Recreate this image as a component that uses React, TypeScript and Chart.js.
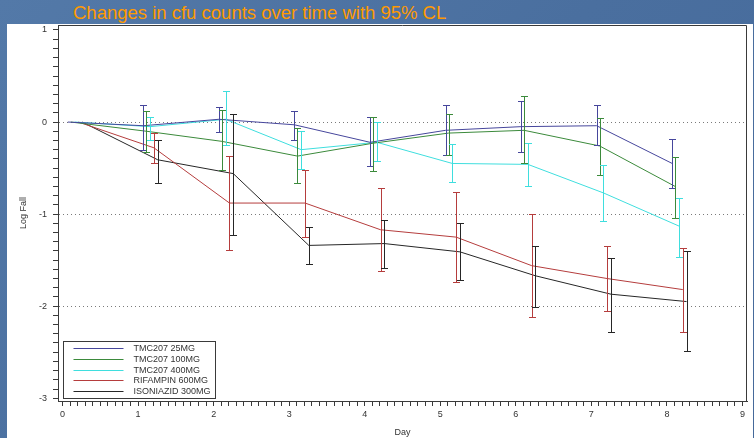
import React, { useEffect, useRef } from 'react';
import { Chart, registerables } from 'chart.js';

Chart.register(...registerables);

const CHART_TITLE = 'Changes in cfu counts over time with 95% CL';
const X_AXIS_TITLE = 'Day';
const Y_AXIS_TITLE = 'Log Fall';

const DAYS = [0, 1, 2, 3, 4, 5, 6, 7, 8];
const X_TICK_LABELS = [0, 1, 2, 3, 4, 5, 6, 7, 8, 9];
const Y_TICK_LABELS = [1, 0, -1, -2, -3];
const Y_GRID_VALUES = [0, -1, -2];

const SERIES_NAMES = ['TMC207 25MG', 'TMC207 100MG', 'TMC207 400MG', 'RIFAMPIN 600MG', 'ISONIAZID 300MG'];
const SERIES_COLORS = ['#46469c', '#3b8a3b', '#3fdede', '#b53d3d', '#262626'];
const SERIES_DAY_OFFSET = [0.07, 0.11, 0.16, 0.21, 0.26];

const TMC25_MEAN = [0, -0.04, 0.03, -0.03, -0.22, -0.09, -0.05, -0.04, -0.45];
const TMC25_LOWER = [null, -0.30, -0.11, -0.20, -0.48, -0.36, -0.33, -0.25, -0.72];
const TMC25_UPPER = [null, 0.18, 0.16, 0.12, 0.06, 0.18, 0.23, 0.18, -0.18];

const TMC100_MEAN = [0, -0.10, -0.21, -0.37, -0.23, -0.12, -0.09, -0.26, -0.70];
const TMC100_LOWER = [null, -0.33, -0.52, -0.66, -0.53, -0.36, -0.45, -0.57, -1.04];
const TMC100_UPPER = [null, 0.12, 0.13, -0.07, 0.06, 0.09, 0.28, 0.04, -0.38];

const TMC400_MEAN = [0, -0.05, 0.03, -0.30, -0.22, -0.45, -0.46, -0.77, -1.13];
const TMC400_LOWER = [null, -0.19, -0.25, -0.51, -0.42, -0.65, -0.69, -1.07, -1.47];
const TMC400_UPPER = [null, 0.06, 0.34, -0.10, 0.0, -0.24, -0.23, -0.47, -0.82];

const RIF600_MEAN = [0, -0.28, -0.88, -0.88, -1.17, -1.25, -1.56, -1.70, -1.82];
const RIF600_LOWER = [null, -0.45, -1.39, -1.25, -1.62, -1.74, -2.12, -2.05, -2.28];
const RIF600_UPPER = [null, -0.12, -0.37, -0.52, -0.72, -0.76, -1.00, -1.35, -1.37];

const INH300_MEAN = [0, -0.41, -0.56, -1.34, -1.32, -1.41, -1.67, -1.87, -1.95];
const INH300_LOWER = [null, -0.66, -1.23, -1.54, -1.59, -1.72, -2.01, -2.28, -2.49];
const INH300_UPPER = [null, -0.20, 0.09, -1.145, -1.06, -1.10, -1.35, -1.48, -1.40];

const SERIES_MEANS = [TMC25_MEAN, TMC100_MEAN, TMC400_MEAN, RIF600_MEAN, INH300_MEAN];
const SERIES_LOWERS = [TMC25_LOWER, TMC100_LOWER, TMC400_LOWER, RIF600_LOWER, INH300_LOWER];
const SERIES_UPPERS = [TMC25_UPPER, TMC100_UPPER, TMC400_UPPER, RIF600_UPPER, INH300_UPPER];

const FONT = "'Liberation Sans', Arial, sans-serif";
const TEXT_COLOR = '#333333';

function minorTicks(min: number, max: number) {
  const out: { value: number }[] = [];
  for (let k = Math.round(min * 10); k <= Math.round(max * 10); k++) out.push({ value: k / 10 });
  return out;
}

function isInt(v: number) {
  return Math.abs(v - Math.round(v)) < 1e-6;
}

const errorBarPlugin = {
  id: 'errorBars',
  afterDatasetsDraw(chart: any) {
    const { ctx } = chart;
    const xs = chart.scales.x;
    const ys = chart.scales.y;
    chart.data.datasets.forEach((ds: any) => {
      ctx.save();
      ctx.strokeStyle = ds.borderColor;
      ctx.lineWidth = 1;
      ds.data.forEach((pt: any, i: number) => {
        const lo = ds.errLower[i];
        const hi = ds.errUpper[i];
        if (lo == null || hi == null) return;
        const x = Math.round(xs.getPixelForValue(pt.x)) + 0.5;
        const y1 = Math.round(ys.getPixelForValue(lo)) + 0.5;
        const y2 = Math.round(ys.getPixelForValue(hi)) + 0.5;
        const cap = 3.5;
        ctx.beginPath();
        ctx.moveTo(x, y1);
        ctx.lineTo(x, y2);
        ctx.moveTo(x - cap, y1);
        ctx.lineTo(x + cap, y1);
        ctx.moveTo(x - cap, y2);
        ctx.lineTo(x + cap, y2);
        ctx.stroke();
      });
      ctx.restore();
    });
  },
};

const framePlugin = {
  id: 'frameAndLegend',
  afterDraw(chart: any) {
    const { ctx, chartArea: ca } = chart;
    ctx.save();
    ctx.strokeStyle = '#3a3a3a';
    ctx.lineWidth = 1;
    ctx.beginPath();
    ctx.moveTo(Math.round(ca.left) + 0.5, Math.round(ca.top) + 0.5);
    ctx.lineTo(Math.round(ca.right) - 0.5, Math.round(ca.top) + 0.5);
    ctx.lineTo(Math.round(ca.right) - 0.5, Math.round(ca.bottom) + 0.5);
    ctx.stroke();

    // legend box
    const bx = Math.round(ca.left) + 5.5;
    const bw = 152;
    const bh = 57;
    const by = Math.round(ca.bottom) - 2.5 - bh;
    ctx.fillStyle = '#ffffff';
    ctx.fillRect(bx, by, bw, bh);
    ctx.strokeStyle = '#3a3a3a';
    ctx.strokeRect(bx, by, bw, bh);
    ctx.font = `9px ${FONT}`;
    ctx.textBaseline = 'middle';
    ctx.textAlign = 'left';
    chart.data.datasets.forEach((ds: any, i: number) => {
      const ry = Math.round(by + 6.5 + i * 10.75) + 0.5;
      ctx.strokeStyle = ds.borderColor;
      ctx.beginPath();
      ctx.moveTo(bx + 10, ry);
      ctx.lineTo(bx + 60, ry);
      ctx.stroke();
      ctx.fillStyle = TEXT_COLOR;
      ctx.fillText(ds.label, bx + 70, ry + 0.5);
    });
    ctx.restore();
  },
};

export default function App() {
  const canvasRef = useRef<HTMLCanvasElement | null>(null);

  useEffect(() => {
    const canvas = canvasRef.current;
    if (!canvas) return;
    const datasets = SERIES_NAMES.map((name, s) => ({
      label: name,
      data: DAYS.map((d, i) => ({ x: d + SERIES_DAY_OFFSET[s], y: SERIES_MEANS[s][i] })),
      errLower: SERIES_LOWERS[s],
      errUpper: SERIES_UPPERS[s],
      borderColor: SERIES_COLORS[s],
      backgroundColor: SERIES_COLORS[s],
      borderWidth: 1,
      pointRadius: 0,
      pointHoverRadius: 0,
      tension: 0,
      fill: false,
    }));

    const chart = new Chart(canvas, {
      type: 'line',
      data: { datasets } as any,
      plugins: [errorBarPlugin, framePlugin],
      options: {
        animation: false,
        responsive: false,
        maintainAspectRatio: false,
        events: [],
        layout: { padding: { left: 8, top: 25, right: 7, bottom: 0 } },
        plugins: {
          legend: { display: false },
          tooltip: { enabled: false },
          title: { display: false },
        },
        scales: {
          x: {
            type: 'linear',
            min: -0.06,
            max: 9.06,
            afterBuildTicks: (scale: any) => {
              scale.ticks = minorTicks(X_TICK_LABELS[0], X_TICK_LABELS[X_TICK_LABELS.length - 1]);
            },
            afterFit: (scale: any) => {
              scale.height = 37;
            },
            ticks: {
              autoSkip: false,
              maxRotation: 0,
              minRotation: 0,
              padding: 3,
              color: TEXT_COLOR,
              font: { family: FONT, size: 9 },
              callback: (v: any) => {
                const n = Number(v);
                return isInt(n) && X_TICK_LABELS.includes(Math.round(n)) ? String(Math.round(n)) : '';
              },
            },
            grid: {
              drawOnChartArea: false,
              drawTicks: true,
              tickLength: 5,
              tickColor: '#3a3a3a',
              color: 'rgba(0,0,0,0)',
            },
            border: { display: true, color: '#3a3a3a', width: 1 },
            title: {
              display: true,
              text: X_AXIS_TITLE,
              color: TEXT_COLOR,
              font: { family: FONT, size: 9 },
              padding: { top: 0, bottom: 0 },
            },
          },
          y: {
            type: 'linear',
            min: -3.03,
            max: 1.054,
            afterBuildTicks: (scale: any) => {
              scale.ticks = minorTicks(Y_TICK_LABELS[Y_TICK_LABELS.length - 1], Y_TICK_LABELS[0]);
            },
            afterFit: (scale: any) => {
              scale.width = 50;
            },
            ticks: {
              autoSkip: false,
              padding: 6,
              color: TEXT_COLOR,
              font: { family: FONT, size: 9 },
              callback: (v: any) => {
                const n = Number(v);
                return isInt(n) && Y_TICK_LABELS.includes(Math.round(n)) ? String(Math.round(n)) : '';
              },
            },
            grid: {
              drawOnChartArea: true,
              drawTicks: true,
              tickLength: 5,
              tickColor: '#3a3a3a',
              lineWidth: 1,
              color: (ctx: any) => {
                const v = ctx.tick ? ctx.tick.value : NaN;
                return isInt(v) && Y_GRID_VALUES.includes(Math.round(v)) ? '#7a7a7a' : 'rgba(0,0,0,0)';
              },
            },
            border: { display: true, color: '#3a3a3a', width: 1, dash: [1, 3] },
            title: {
              display: true,
              text: Y_AXIS_TITLE,
              color: TEXT_COLOR,
              font: { family: FONT, size: 9 },
              padding: { top: 10, bottom: 0 },
            },
          },
        },
      } as any,
    });
    return () => chart.destroy();
  }, []);

  return (
    <div
      style={{
        position: 'fixed',
        left: 0,
        top: 0,
        width: 754,
        height: 438,
        overflow: 'hidden',
        background: 'linear-gradient(135deg, #5379a8 0%, #4a6f9f 50%, #45699a 100%)',
      }}
    >
      <div
        style={{
          position: 'absolute',
          left: 7,
          top: 24,
          width: 746,
          height: 414,
          background: '#ffffff',
        }}
      />
      <div
        style={{
          position: 'absolute',
          left: 73,
          top: 4,
          fontFamily: FONT,
          fontSize: 18.5,
          lineHeight: '18.5px',
          color: '#ff9a00',
          whiteSpace: 'nowrap',
        }}
      >
        {CHART_TITLE}
      </div>
      <canvas
        ref={canvasRef}
        width={754}
        height={438}
        style={{ position: 'absolute', left: 0, top: 0, width: 754, height: 438, display: 'block' }}
      />
    </div>
  );
}
